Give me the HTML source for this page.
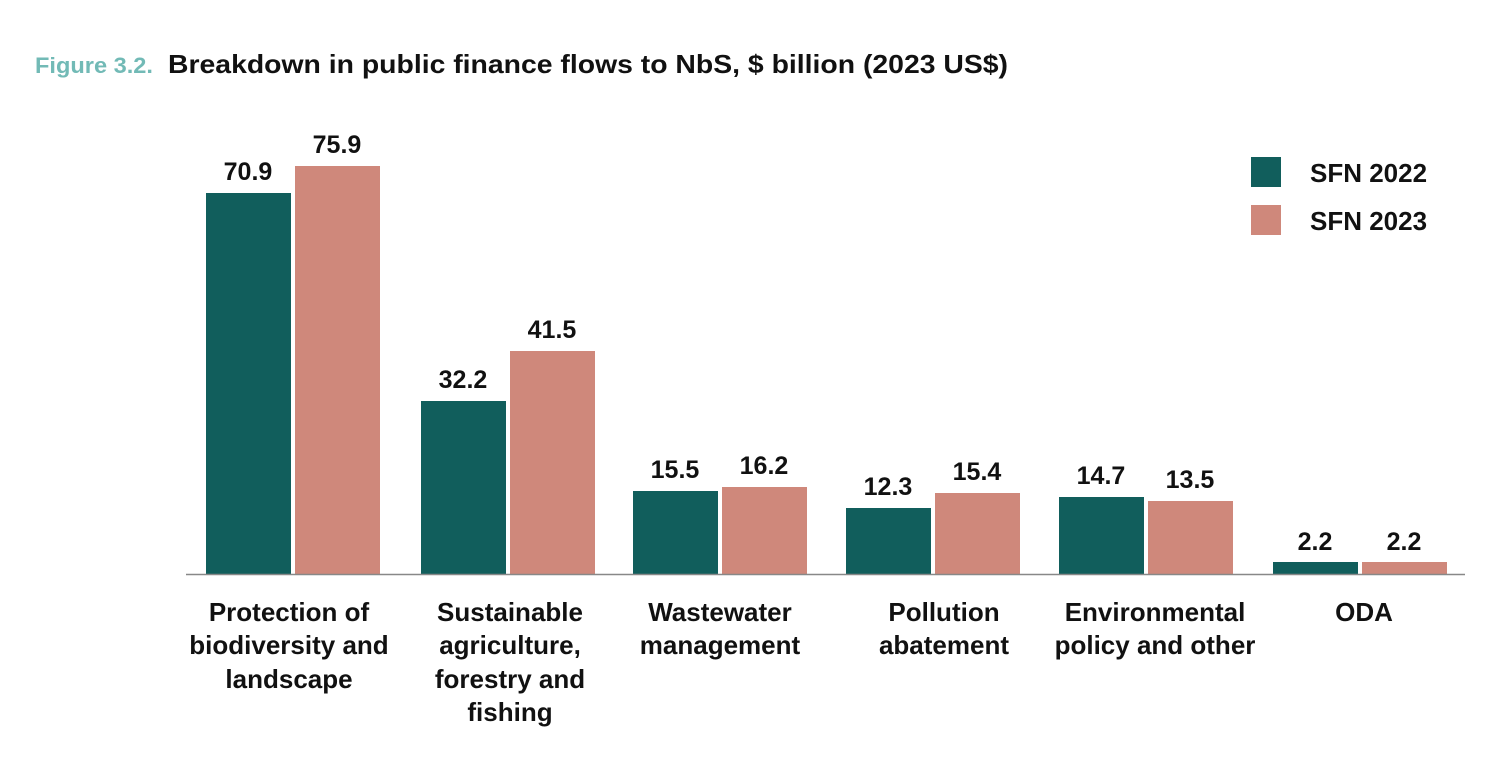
<!DOCTYPE html>
<html><head><style>
body{margin:0;background:#fff;}
svg text{font-family:"Liberation Sans",sans-serif;font-weight:bold;}
</style></head><body>
<svg width="1494" height="758" xmlns="http://www.w3.org/2000/svg">
<text x="35" y="73" font-size="22" fill="#72bab6" textLength="118" lengthAdjust="spacingAndGlyphs">Figure 3.2.</text>
<text x="168" y="73" font-size="26" fill="#111" textLength="840" lengthAdjust="spacingAndGlyphs">Breakdown in public finance flows to NbS, $ billion (2023 US$)</text>
<g fill="#115e5c">
<rect x="206" y="193" width="85" height="381"/>
<rect x="421" y="401" width="85" height="173"/>
<rect x="633" y="491" width="85" height="83"/>
<rect x="846" y="508" width="85" height="66"/>
<rect x="1059" y="497" width="85" height="77"/>
<rect x="1273" y="562" width="85" height="12"/>
</g>
<g fill="#cf887b">
<rect x="295" y="166" width="85" height="408"/>
<rect x="510" y="351" width="85" height="223"/>
<rect x="722" y="487" width="85" height="87"/>
<rect x="935" y="493" width="85" height="81"/>
<rect x="1148" y="501" width="85" height="73"/>
<rect x="1362" y="562" width="85" height="12"/>
</g>
<line x1="186" y1="574.5" x2="1465" y2="574.5" stroke="#888" stroke-width="1.5"/>
<g font-size="25" fill="#111" text-anchor="middle">
<text x="248" y="180">70.9</text><text x="337" y="153">75.9</text>
<text x="463" y="388">32.2</text><text x="552" y="338">41.5</text>
<text x="675" y="478">15.5</text><text x="764" y="474">16.2</text>
<text x="888" y="495">12.3</text><text x="977" y="480">15.4</text>
<text x="1101" y="484">14.7</text><text x="1190" y="488">13.5</text>
<text x="1315" y="550">2.2</text><text x="1404" y="550">2.2</text>
</g>
<g font-size="26" fill="#111" text-anchor="middle">
<text x="289" y="621">Protection of</text><text x="289" y="654">biodiversity and</text><text x="289" y="688">landscape</text>
<text x="510" y="621">Sustainable</text><text x="510" y="654">agriculture,</text><text x="510" y="688">forestry and</text><text x="510" y="721">fishing</text>
<text x="720" y="621">Wastewater</text><text x="720" y="654">management</text>
<text x="944" y="621">Pollution</text><text x="944" y="654">abatement</text>
<text x="1155" y="621">Environmental</text><text x="1155" y="654">policy and other</text>
<text x="1364" y="621">ODA</text>
</g>
<rect x="1251" y="157" width="30" height="30" fill="#115e5c"/>
<rect x="1251" y="205" width="30" height="30" fill="#cf887b"/>
<text x="1310" y="182" font-size="26" fill="#111">SFN 2022</text>
<text x="1310" y="230" font-size="26" fill="#111">SFN 2023</text>
</svg>
</body></html>
